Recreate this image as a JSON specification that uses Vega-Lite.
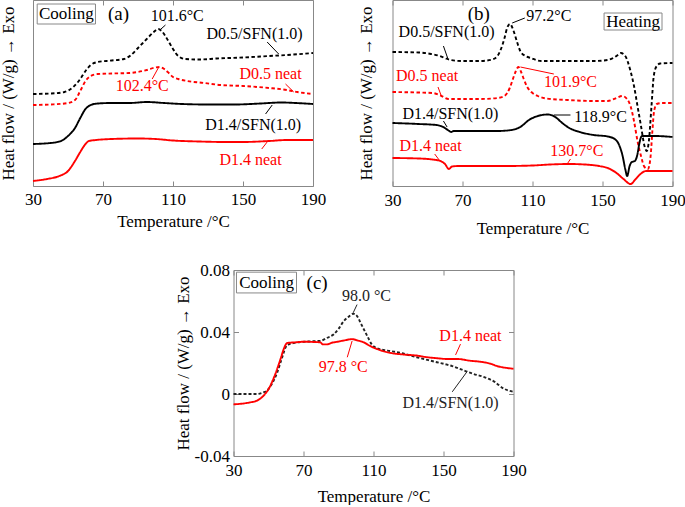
{
"$schema": "https://vega.github.io/schema/vega-lite/v6.json",
"background": "white",
"padding": {"left": -2, "top": -1, "right": 0, "bottom": 0},
"datasets": {
"a_lines": [
{"s":"D0.5/SFN(1.0)","T":30,"v":0.92},{"s":"D0.5/SFN(1.0)","T":40,"v":0.925},{"s":"D0.5/SFN(1.0)","T":48,"v":0.94},{"s":"D0.5/SFN(1.0)","T":53,"v":0.99},{"s":"D0.5/SFN(1.0)","T":57,"v":1.07},{"s":"D0.5/SFN(1.0)","T":60,"v":1.15},{"s":"D0.5/SFN(1.0)","T":63,"v":1.21},{"s":"D0.5/SFN(1.0)","T":67,"v":1.24},{"s":"D0.5/SFN(1.0)","T":75,"v":1.255},{"s":"D0.5/SFN(1.0)","T":82,"v":1.27},{"s":"D0.5/SFN(1.0)","T":86,"v":1.31},{"s":"D0.5/SFN(1.0)","T":90,"v":1.38},{"s":"D0.5/SFN(1.0)","T":95,"v":1.47},{"s":"D0.5/SFN(1.0)","T":99,"v":1.54},{"s":"D0.5/SFN(1.0)","T":101.6,"v":1.57},{"s":"D0.5/SFN(1.0)","T":104,"v":1.54},{"s":"D0.5/SFN(1.0)","T":107,"v":1.46},{"s":"D0.5/SFN(1.0)","T":110,"v":1.37},{"s":"D0.5/SFN(1.0)","T":113,"v":1.30},{"s":"D0.5/SFN(1.0)","T":117,"v":1.27},{"s":"D0.5/SFN(1.0)","T":125,"v":1.265},{"s":"D0.5/SFN(1.0)","T":135,"v":1.275},{"s":"D0.5/SFN(1.0)","T":150,"v":1.285},{"s":"D0.5/SFN(1.0)","T":165,"v":1.30},{"s":"D0.5/SFN(1.0)","T":175,"v":1.31},{"s":"D0.5/SFN(1.0)","T":190,"v":1.33},
{"s":"D0.5 neat","T":30,"v":0.81},{"s":"D0.5 neat","T":40,"v":0.815},{"s":"D0.5 neat","T":50,"v":0.83},{"s":"D0.5 neat","T":54,"v":0.86},{"s":"D0.5 neat","T":57,"v":0.95},{"s":"D0.5 neat","T":60,"v":1.05},{"s":"D0.5 neat","T":63,"v":1.10},{"s":"D0.5 neat","T":67,"v":1.12},{"s":"D0.5 neat","T":75,"v":1.125},{"s":"D0.5 neat","T":85,"v":1.13},{"s":"D0.5 neat","T":95,"v":1.16},{"s":"D0.5 neat","T":100,"v":1.185},{"s":"D0.5 neat","T":102.4,"v":1.19},{"s":"D0.5 neat","T":105,"v":1.17},{"s":"D0.5 neat","T":107,"v":1.14},{"s":"D0.5 neat","T":110,"v":1.09},{"s":"D0.5 neat","T":113,"v":1.07},{"s":"D0.5 neat","T":118,"v":1.05},{"s":"D0.5 neat","T":128,"v":1.03},{"s":"D0.5 neat","T":137,"v":1.01},{"s":"D0.5 neat","T":150,"v":1.00},{"s":"D0.5 neat","T":165,"v":0.98},{"s":"D0.5 neat","T":175,"v":0.96},{"s":"D0.5 neat","T":181,"v":0.94},{"s":"D0.5 neat","T":190,"v":0.92},
{"s":"D1.4/SFN(1.0)","T":30,"v":0.42},{"s":"D1.4/SFN(1.0)","T":40,"v":0.43},{"s":"D1.4/SFN(1.0)","T":46,"v":0.45},{"s":"D1.4/SFN(1.0)","T":50,"v":0.50},{"s":"D1.4/SFN(1.0)","T":54,"v":0.58},{"s":"D1.4/SFN(1.0)","T":57,"v":0.68},{"s":"D1.4/SFN(1.0)","T":60,"v":0.77},{"s":"D1.4/SFN(1.0)","T":63,"v":0.81},{"s":"D1.4/SFN(1.0)","T":67,"v":0.825},{"s":"D1.4/SFN(1.0)","T":75,"v":0.83},{"s":"D1.4/SFN(1.0)","T":85,"v":0.83},{"s":"D1.4/SFN(1.0)","T":95,"v":0.84},{"s":"D1.4/SFN(1.0)","T":105,"v":0.83},{"s":"D1.4/SFN(1.0)","T":115,"v":0.82},{"s":"D1.4/SFN(1.0)","T":130,"v":0.815},{"s":"D1.4/SFN(1.0)","T":145,"v":0.815},{"s":"D1.4/SFN(1.0)","T":160,"v":0.825},{"s":"D1.4/SFN(1.0)","T":172,"v":0.835},{"s":"D1.4/SFN(1.0)","T":180,"v":0.83},{"s":"D1.4/SFN(1.0)","T":190,"v":0.82},
{"s":"D1.4 neat","T":30,"v":0.05},{"s":"D1.4 neat","T":38,"v":0.07},{"s":"D1.4 neat","T":45,"v":0.10},{"s":"D1.4 neat","T":50,"v":0.15},{"s":"D1.4 neat","T":54,"v":0.25},{"s":"D1.4 neat","T":57,"v":0.34},{"s":"D1.4 neat","T":60,"v":0.42},{"s":"D1.4 neat","T":62,"v":0.45},{"s":"D1.4 neat","T":66,"v":0.46},{"s":"D1.4 neat","T":75,"v":0.47},{"s":"D1.4 neat","T":90,"v":0.475},{"s":"D1.4 neat","T":100,"v":0.47},{"s":"D1.4 neat","T":110,"v":0.455},{"s":"D1.4 neat","T":125,"v":0.445},{"s":"D1.4 neat","T":140,"v":0.44},{"s":"D1.4 neat","T":150,"v":0.44},{"s":"D1.4 neat","T":165,"v":0.45},{"s":"D1.4 neat","T":175,"v":0.46},{"s":"D1.4 neat","T":190,"v":0.46}
],
"a_text": [
{"s":"D0.5/SFN(1.0)","T":112.4,"v":1.70,"label":"101.6°C"},
{"s":"D0.5/SFN(1.0)","T":156.6,"v":1.52,"label":"D0.5/SFN(1.0)"},
{"s":"D0.5 neat","T":165.7,"v":1.12,"label":"D0.5 neat"},
{"s":"D0.5 neat","T":92.4,"v":1.00,"label":"102.4°C"},
{"s":"D1.4/SFN(1.0)","T":155.8,"v":0.61,"label":"D1.4/SFN(1.0)"},
{"s":"D1.4 neat","T":154.3,"v":0.26,"label":"D1.4 neat"}
],
"a_rules": [
{"s":"D0.5/SFN(1.0)","T":105.7,"v":1.61,"T2":102.5,"v2":1.56},
{"s":"D0.5/SFN(1.0)","T":163.8,"v":1.44,"T2":170.4,"v2":1.32},
{"s":"D0.5 neat","T":174.3,"v":1.02,"T2":179,"v2":0.94},
{"s":"D0.5 neat","T":98.1,"v":1.07,"T2":101.9,"v2":1.19},
{"s":"D1.4/SFN(1.0)","T":162.9,"v":0.72,"T2":166.7,"v2":0.81},
{"s":"D1.4 neat","T":160.7,"v":0.37,"T2":163.8,"v2":0.44}
],
"b_lines": [
{"s":"D0.5/SFN(1.0)","T":30,"v":1.34},{"s":"D0.5/SFN(1.0)","T":45,"v":1.335},{"s":"D0.5/SFN(1.0)","T":52,"v":1.32},{"s":"D0.5/SFN(1.0)","T":57,"v":1.30},{"s":"D0.5/SFN(1.0)","T":60,"v":1.28},{"s":"D0.5/SFN(1.0)","T":63,"v":1.26},{"s":"D0.5/SFN(1.0)","T":70,"v":1.25},{"s":"D0.5/SFN(1.0)","T":80,"v":1.25},{"s":"D0.5/SFN(1.0)","T":87,"v":1.265},{"s":"D0.5/SFN(1.0)","T":90,"v":1.30},{"s":"D0.5/SFN(1.0)","T":92,"v":1.37},{"s":"D0.5/SFN(1.0)","T":94,"v":1.48},{"s":"D0.5/SFN(1.0)","T":95.5,"v":1.58},{"s":"D0.5/SFN(1.0)","T":97.2,"v":1.62},{"s":"D0.5/SFN(1.0)","T":99,"v":1.56},{"s":"D0.5/SFN(1.0)","T":101,"v":1.45},{"s":"D0.5/SFN(1.0)","T":103,"v":1.35},{"s":"D0.5/SFN(1.0)","T":106,"v":1.30},{"s":"D0.5/SFN(1.0)","T":109,"v":1.28},{"s":"D0.5/SFN(1.0)","T":115,"v":1.25},{"s":"D0.5/SFN(1.0)","T":130,"v":1.25},{"s":"D0.5/SFN(1.0)","T":145,"v":1.25},{"s":"D0.5/SFN(1.0)","T":153,"v":1.26},{"s":"D0.5/SFN(1.0)","T":158,"v":1.30},{"s":"D0.5/SFN(1.0)","T":160.5,"v":1.33},{"s":"D0.5/SFN(1.0)","T":163,"v":1.30},{"s":"D0.5/SFN(1.0)","T":166,"v":1.15},{"s":"D0.5/SFN(1.0)","T":168,"v":1.00},{"s":"D0.5/SFN(1.0)","T":170,"v":0.80},{"s":"D0.5/SFN(1.0)","T":172,"v":0.60},{"s":"D0.5/SFN(1.0)","T":174,"v":0.40},{"s":"D0.5/SFN(1.0)","T":175.3,"v":0.35},{"s":"D0.5/SFN(1.0)","T":176.5,"v":0.45},{"s":"D0.5/SFN(1.0)","T":178,"v":0.80},{"s":"D0.5/SFN(1.0)","T":179.3,"v":1.10},{"s":"D0.5/SFN(1.0)","T":181,"v":1.20},{"s":"D0.5/SFN(1.0)","T":183,"v":1.225},{"s":"D0.5/SFN(1.0)","T":190,"v":1.23},
{"s":"D0.5 neat","T":30,"v":0.94},{"s":"D0.5 neat","T":45,"v":0.935},{"s":"D0.5 neat","T":53,"v":0.93},{"s":"D0.5 neat","T":58,"v":0.90},{"s":"D0.5 neat","T":62,"v":0.87},{"s":"D0.5 neat","T":70,"v":0.87},{"s":"D0.5 neat","T":80,"v":0.87},{"s":"D0.5 neat","T":90,"v":0.88},{"s":"D0.5 neat","T":94,"v":0.90},{"s":"D0.5 neat","T":97,"v":0.98},{"s":"D0.5 neat","T":99,"v":1.08},{"s":"D0.5 neat","T":100.5,"v":1.15},{"s":"D0.5 neat","T":101.9,"v":1.19},{"s":"D0.5 neat","T":103.5,"v":1.14},{"s":"D0.5 neat","T":105,"v":1.07},{"s":"D0.5 neat","T":107,"v":0.99},{"s":"D0.5 neat","T":110,"v":0.93},{"s":"D0.5 neat","T":113,"v":0.90},{"s":"D0.5 neat","T":118,"v":0.875},{"s":"D0.5 neat","T":130,"v":0.86},{"s":"D0.5 neat","T":145,"v":0.85},{"s":"D0.5 neat","T":153,"v":0.85},{"s":"D0.5 neat","T":158,"v":0.88},{"s":"D0.5 neat","T":161.3,"v":0.90},{"s":"D0.5 neat","T":164,"v":0.87},{"s":"D0.5 neat","T":166,"v":0.80},{"s":"D0.5 neat","T":168,"v":0.65},{"s":"D0.5 neat","T":170,"v":0.45},{"s":"D0.5 neat","T":172,"v":0.30},{"s":"D0.5 neat","T":174,"v":0.19},{"s":"D0.5 neat","T":176,"v":0.17},{"s":"D0.5 neat","T":177.5,"v":0.30},{"s":"D0.5 neat","T":178.5,"v":0.55},{"s":"D0.5 neat","T":179.5,"v":0.75},{"s":"D0.5 neat","T":181,"v":0.82},{"s":"D0.5 neat","T":184,"v":0.83},{"s":"D0.5 neat","T":190,"v":0.83},
{"s":"D1.4/SFN(1.0)","T":30,"v":0.63},{"s":"D1.4/SFN(1.0)","T":45,"v":0.62},{"s":"D1.4/SFN(1.0)","T":55,"v":0.61},{"s":"D1.4/SFN(1.0)","T":59,"v":0.59},{"s":"D1.4/SFN(1.0)","T":62,"v":0.555},{"s":"D1.4/SFN(1.0)","T":63.5,"v":0.54},{"s":"D1.4/SFN(1.0)","T":65,"v":0.55},{"s":"D1.4/SFN(1.0)","T":75,"v":0.55},{"s":"D1.4/SFN(1.0)","T":90,"v":0.55},{"s":"D1.4/SFN(1.0)","T":98,"v":0.56},{"s":"D1.4/SFN(1.0)","T":103,"v":0.59},{"s":"D1.4/SFN(1.0)","T":108,"v":0.66},{"s":"D1.4/SFN(1.0)","T":113,"v":0.70},{"s":"D1.4/SFN(1.0)","T":118.9,"v":0.715},{"s":"D1.4/SFN(1.0)","T":123,"v":0.69},{"s":"D1.4/SFN(1.0)","T":127,"v":0.63},{"s":"D1.4/SFN(1.0)","T":131,"v":0.58},{"s":"D1.4/SFN(1.0)","T":137,"v":0.54},{"s":"D1.4/SFN(1.0)","T":145,"v":0.51},{"s":"D1.4/SFN(1.0)","T":153,"v":0.495},{"s":"D1.4/SFN(1.0)","T":157,"v":0.47},{"s":"D1.4/SFN(1.0)","T":159.5,"v":0.41},{"s":"D1.4/SFN(1.0)","T":161.5,"v":0.30},{"s":"D1.4/SFN(1.0)","T":163,"v":0.17},{"s":"D1.4/SFN(1.0)","T":164.1,"v":0.10},{"s":"D1.4/SFN(1.0)","T":165.5,"v":0.20},{"s":"D1.4/SFN(1.0)","T":166.8,"v":0.24},{"s":"D1.4/SFN(1.0)","T":168.5,"v":0.25},{"s":"D1.4/SFN(1.0)","T":170,"v":0.32},{"s":"D1.4/SFN(1.0)","T":171,"v":0.42},{"s":"D1.4/SFN(1.0)","T":172.5,"v":0.50},{"s":"D1.4/SFN(1.0)","T":180,"v":0.50},{"s":"D1.4/SFN(1.0)","T":190,"v":0.49},
{"s":"D1.4 neat","T":30,"v":0.28},{"s":"D1.4 neat","T":45,"v":0.275},{"s":"D1.4 neat","T":55,"v":0.26},{"s":"D1.4 neat","T":58,"v":0.245},{"s":"D1.4 neat","T":60,"v":0.22},{"s":"D1.4 neat","T":62.2,"v":0.17},{"s":"D1.4 neat","T":64,"v":0.195},{"s":"D1.4 neat","T":68,"v":0.20},{"s":"D1.4 neat","T":80,"v":0.20},{"s":"D1.4 neat","T":95,"v":0.20},{"s":"D1.4 neat","T":110,"v":0.205},{"s":"D1.4 neat","T":120,"v":0.215},{"s":"D1.4 neat","T":130.7,"v":0.22},{"s":"D1.4 neat","T":140,"v":0.215},{"s":"D1.4 neat","T":148,"v":0.20},{"s":"D1.4 neat","T":153,"v":0.18},{"s":"D1.4 neat","T":158,"v":0.13},{"s":"D1.4 neat","T":162,"v":0.07},{"s":"D1.4 neat","T":166,"v":0.02},{"s":"D1.4 neat","T":169,"v":0.07},{"s":"D1.4 neat","T":171.7,"v":0.12},{"s":"D1.4 neat","T":175,"v":0.15},{"s":"D1.4 neat","T":190,"v":0.15}
],
"b_text": [
{"s":"D0.5/SFN(1.0)","T":119.3,"v":1.70,"label":"97.2°C"},
{"s":"D0.5/SFN(1.0)","T":60.9,"v":1.54,"label":"D0.5/SFN(1.0)"},
{"s":"D0.5 neat","T":49.8,"v":1.10,"label":"D0.5 neat"},
{"s":"D0.5 neat","T":131.7,"v":1.04,"label":"101.9°C"},
{"s":"D1.4/SFN(1.0)","T":63.1,"v":0.72,"label":"D1.4/SFN(1.0)"},
{"s":"D1.4/SFN(1.0)","T":148.9,"v":0.69,"label":"118.9°C"},
{"s":"D1.4 neat","T":51.7,"v":0.40,"label":"D1.4 neat"},
{"s":"D1.4 neat","T":135.3,"v":0.35,"label":"130.7°C"}
],
"b_rules": [
{"s":"D0.5/SFN(1.0)","T":105.6,"v":1.68,"T2":98.4,"v2":1.63},
{"s":"D0.5/SFN(1.0)","T":59.1,"v":1.40,"T2":61.7,"v2":1.27},
{"s":"D0.5 neat","T":56,"v":0.99,"T2":57.9,"v2":0.90},
{"s":"D0.5 neat","T":122.2,"v":1.12,"T2":103.1,"v2":1.19},
{"s":"D1.4/SFN(1.0)","T":59.1,"v":0.65,"T2":61.2,"v2":0.59},
{"s":"D1.4/SFN(1.0)","T":131.7,"v":0.71,"T2":122.2,"v2":0.71},
{"s":"D1.4 neat","T":54.1,"v":0.32,"T2":57.1,"v2":0.25},
{"s":"D1.4 neat","T":131.7,"v":0.27,"T2":129.8,"v2":0.22}
],
"c_lines": [
{"s":"D1.4/SFN(1.0)","T":30,"v":0.0},{"s":"D1.4/SFN(1.0)","T":38,"v":0.0},{"s":"D1.4/SFN(1.0)","T":43.5,"v":0.0},{"s":"D1.4/SFN(1.0)","T":47,"v":0.001},{"s":"D1.4/SFN(1.0)","T":49.3,"v":0.0024},{"s":"D1.4/SFN(1.0)","T":53,"v":0.0088},{"s":"D1.4/SFN(1.0)","T":55,"v":0.014},{"s":"D1.4/SFN(1.0)","T":56.9,"v":0.0205},{"s":"D1.4/SFN(1.0)","T":58.5,"v":0.026},{"s":"D1.4/SFN(1.0)","T":59.7,"v":0.030},{"s":"D1.4/SFN(1.0)","T":61.6,"v":0.032},{"s":"D1.4/SFN(1.0)","T":65,"v":0.033},{"s":"D1.4/SFN(1.0)","T":70.2,"v":0.0337},{"s":"D1.4/SFN(1.0)","T":75,"v":0.034},{"s":"D1.4/SFN(1.0)","T":79.7,"v":0.0343},{"s":"D1.4/SFN(1.0)","T":83,"v":0.036},{"s":"D1.4/SFN(1.0)","T":87.3,"v":0.0386},{"s":"D1.4/SFN(1.0)","T":90,"v":0.042},{"s":"D1.4/SFN(1.0)","T":93,"v":0.047},{"s":"D1.4/SFN(1.0)","T":96,"v":0.050},{"s":"D1.4/SFN(1.0)","T":98.4,"v":0.0518},{"s":"D1.4/SFN(1.0)","T":100.6,"v":0.0503},{"s":"D1.4/SFN(1.0)","T":103,"v":0.045},{"s":"D1.4/SFN(1.0)","T":106.4,"v":0.0375},{"s":"D1.4/SFN(1.0)","T":109,"v":0.032},{"s":"D1.4/SFN(1.0)","T":112.1,"v":0.0295},{"s":"D1.4/SFN(1.0)","T":118,"v":0.028},{"s":"D1.4/SFN(1.0)","T":123.5,"v":0.027},{"s":"D1.4/SFN(1.0)","T":134.7,"v":0.0237},{"s":"D1.4/SFN(1.0)","T":146.2,"v":0.0205},{"s":"D1.4/SFN(1.0)","T":155,"v":0.018},{"s":"D1.4/SFN(1.0)","T":161.6,"v":0.0152},{"s":"D1.4/SFN(1.0)","T":167,"v":0.013},{"s":"D1.4/SFN(1.0)","T":173,"v":0.011},{"s":"D1.4/SFN(1.0)","T":179,"v":0.008},{"s":"D1.4/SFN(1.0)","T":184.4,"v":0.0035},{"s":"D1.4/SFN(1.0)","T":190,"v":0.0014},
{"s":"D1.4 neat","T":30,"v":-0.0067},{"s":"D1.4 neat","T":35,"v":-0.0062},{"s":"D1.4 neat","T":39.5,"v":-0.0054},{"s":"D1.4 neat","T":43,"v":-0.0045},{"s":"D1.4 neat","T":45.4,"v":-0.0029},{"s":"D1.4 neat","T":48,"v":0.0},{"s":"D1.4 neat","T":50.2,"v":0.0035},{"s":"D1.4 neat","T":52.5,"v":0.009},{"s":"D1.4 neat","T":55,"v":0.0163},{"s":"D1.4 neat","T":57,"v":0.023},{"s":"D1.4 neat","T":58.7,"v":0.029},{"s":"D1.4 neat","T":60.7,"v":0.0329},{"s":"D1.4 neat","T":65,"v":0.0333},{"s":"D1.4 neat","T":70.2,"v":0.0337},{"s":"D1.4 neat","T":75,"v":0.0336},{"s":"D1.4 neat","T":79.7,"v":0.0333},{"s":"D1.4 neat","T":81,"v":0.032},{"s":"D1.4 neat","T":83.5,"v":0.032},{"s":"D1.4 neat","T":86,"v":0.033},{"s":"D1.4 neat","T":89.3,"v":0.0337},{"s":"D1.4 neat","T":93,"v":0.0345},{"s":"D1.4 neat","T":97.8,"v":0.0354},{"s":"D1.4 neat","T":101,"v":0.0345},{"s":"D1.4 neat","T":104.5,"v":0.0333},{"s":"D1.4 neat","T":108,"v":0.031},{"s":"D1.4 neat","T":112.1,"v":0.029},{"s":"D1.4 neat","T":116,"v":0.0275},{"s":"D1.4 neat","T":119.7,"v":0.0265},{"s":"D1.4 neat","T":127,"v":0.0255},{"s":"D1.4 neat","T":134.7,"v":0.0248},{"s":"D1.4 neat","T":140,"v":0.0238},{"s":"D1.4 neat","T":146.2,"v":0.0231},{"s":"D1.4 neat","T":152,"v":0.0226},{"s":"D1.4 neat","T":157.8,"v":0.0226},{"s":"D1.4 neat","T":165,"v":0.0215},{"s":"D1.4 neat","T":173,"v":0.0205},{"s":"D1.4 neat","T":177,"v":0.0195},{"s":"D1.4 neat","T":180.7,"v":0.018},{"s":"D1.4 neat","T":185,"v":0.017},{"s":"D1.4 neat","T":190,"v":0.0163}
],
"c_text": [
{"s":"D1.4/SFN(1.0)","T":106,"v":0.063,"label":"98.0 °C"},
{"s":"D1.4 neat","T":165.4,"v":0.0375,"label":"D1.4 neat"},
{"s":"D1.4 neat","T":92.7,"v":0.0173,"label":"97.8 °C"},
{"s":"D1.4/SFN(1.0)","T":154,"v":-0.0061,"label":"D1.4/SFN(1.0)"}
],
"c_rules": [
{"s":"D1.4/SFN(1.0)","T":100.6,"v":0.0577,"T2":98.4,"v2":0.0524},
{"s":"D1.4 neat","T":159.7,"v":0.0322,"T2":156.9,"v2":0.0252},
{"s":"D1.4 neat","T":95,"v":0.0237,"T2":97.8,"v2":0.0343},
{"s":"D1.4/SFN(1.0)","T":155,"v":0.0014,"T2":163.5,"v2":0.0145}
]
},
"vconcat": [
{
"hconcat": [
{
"width": 280, "height": 186,
"layer": [
{"data": {"name": "a_lines"}, "mark": {"type": "line", "strokeWidth": 1.9, "interpolate": "monotone"},
"encoding": {
"x": {"field": "T", "type": "quantitative", "scale": {"domain": [30, 190], "nice": false, "zero": false},
"axis": {"orient": "bottom", "values": [30, 70, 110, 150, 190], "labelPadding": 10, "labelFlush": false, "title": "Temperature /°C", "titlePadding": 6}},
"y": {"field": "v", "type": "quantitative", "scale": {"domain": [0, 1.86], "nice": false, "zero": false},
"axis": {"orient": "left", "ticks": false, "labels": false, "title": "Heat flow / (W/g) → Exo", "titlePadding": 16}},
"color": {"field": "s", "type": "nominal", "scale": {"domain": ["D0.5/SFN(1.0)", "D0.5 neat", "D1.4/SFN(1.0)", "D1.4 neat"], "range": ["black", "red", "black", "red"]}, "legend": null},
"strokeDash": {"field": "s", "type": "nominal", "scale": {"domain": ["D0.5/SFN(1.0)", "D0.5 neat", "D1.4/SFN(1.0)", "D1.4 neat"], "range": [[3.5, 2.5], [3.5, 2.5], [1, 0], [1, 0]]}, "legend": null}
}},
{"data": {"values": [{}]}, "mark": {"type": "point", "opacity": 0},
"encoding": {"x": {"datum": 30, "type": "quantitative", "axis": {"orient": "top", "values": [30, 70, 110, 150, 190], "labels": false, "title": null}},
"y": {"datum": 0, "type": "quantitative", "axis": null}}},
{"data": {"values": [{"T": 32.4, "T2": 65.7, "v": 1.62, "v2": 1.82}]}, "mark": {"type": "rect", "fill": "white", "stroke": "#888", "strokeWidth": 1},
"encoding": {"x": {"field": "T", "type": "quantitative", "axis": null}, "x2": {"field": "T2"}, "y": {"field": "v", "type": "quantitative", "axis": null}, "y2": {"field": "v2"}}},
{"data": {"values": [{"T": 49.05, "v": 1.72, "label": "Cooling"}]}, "mark": {"type": "text", "color": "black", "fontSize": 17, "align": "center", "baseline": "middle"},
"encoding": {"x": {"field": "T", "type": "quantitative", "axis": null}, "y": {"field": "v", "type": "quantitative", "axis": null}, "text": {"field": "label"}}},
{"data": {"values": [{"T": 78.9, "v": 1.72, "label": "(a)"}]}, "mark": {"type": "text", "color": "black", "fontSize": 19, "align": "center", "baseline": "middle"},
"encoding": {"x": {"field": "T", "type": "quantitative", "axis": null}, "y": {"field": "v", "type": "quantitative", "axis": null}, "text": {"field": "label"}}},
{"data": {"name": "a_rules"}, "mark": {"type": "rule", "strokeWidth": 1},
"encoding": {"x": {"field": "T", "type": "quantitative", "axis": null}, "x2": {"field": "T2"}, "y": {"field": "v", "type": "quantitative", "axis": null}, "y2": {"field": "v2"}, "color": {"field": "s", "type": "nominal", "legend": null}}},
{"data": {"name": "a_text"}, "mark": {"type": "text", "fontSize": 16, "align": "center", "baseline": "middle"},
"encoding": {"x": {"field": "T", "type": "quantitative", "axis": null}, "y": {"field": "v", "type": "quantitative", "axis": null}, "text": {"field": "label"}, "color": {"field": "s", "type": "nominal", "legend": null}}}
],
"resolve": {"axis": {"x": "independent", "y": "independent"}}
},
{
"width": 280, "height": 186,
"layer": [
{"data": {"name": "b_lines"}, "mark": {"type": "line", "strokeWidth": 1.9, "interpolate": "monotone"},
"encoding": {
"x": {"field": "T", "type": "quantitative", "scale": {"domain": [30, 190], "nice": false, "zero": false},
"axis": {"orient": "bottom", "values": [30, 70, 110, 150, 190], "labelPadding": 11, "labelFlush": false, "title": "Temperature /°C", "titlePadding": 12}},
"y": {"field": "v", "type": "quantitative", "scale": {"domain": [0, 1.86], "nice": false, "zero": false},
"axis": {"orient": "left", "ticks": false, "labels": false, "title": "Heat flow / (W/g) → Exo", "titlePadding": 17}},
"color": {"field": "s", "type": "nominal", "scale": {"domain": ["D0.5/SFN(1.0)", "D0.5 neat", "D1.4/SFN(1.0)", "D1.4 neat"], "range": ["black", "red", "black", "red"]}, "legend": null},
"strokeDash": {"field": "s", "type": "nominal", "scale": {"domain": ["D0.5/SFN(1.0)", "D0.5 neat", "D1.4/SFN(1.0)", "D1.4 neat"], "range": [[3.5, 2.5], [3.5, 2.5], [1, 0], [1, 0]]}, "legend": null}
}},
{"data": {"values": [{}]}, "mark": {"type": "point", "opacity": 0},
"encoding": {"x": {"datum": 30, "type": "quantitative", "axis": {"orient": "top", "values": [30, 70, 110, 150, 190], "labels": false, "title": null}},
"y": {"datum": 0, "type": "quantitative", "axis": null}}},
{"data": {"values": [{"T": 150.9, "T2": 184, "v": 1.56, "v2": 1.73}]}, "mark": {"type": "rect", "fill": "white", "stroke": "#888", "strokeWidth": 1},
"encoding": {"x": {"field": "T", "type": "quantitative", "axis": null}, "x2": {"field": "T2"}, "y": {"field": "v", "type": "quantitative", "axis": null}, "y2": {"field": "v2"}}},
{"data": {"values": [{"T": 167.5, "v": 1.645, "label": "Heating"}]}, "mark": {"type": "text", "color": "black", "fontSize": 17, "align": "center", "baseline": "middle"},
"encoding": {"x": {"field": "T", "type": "quantitative", "axis": null}, "y": {"field": "v", "type": "quantitative", "axis": null}, "text": {"field": "label"}}},
{"data": {"values": [{"T": 79.3, "v": 1.72, "label": "(b)"}]}, "mark": {"type": "text", "color": "black", "fontSize": 19, "align": "center", "baseline": "middle"},
"encoding": {"x": {"field": "T", "type": "quantitative", "axis": null}, "y": {"field": "v", "type": "quantitative", "axis": null}, "text": {"field": "label"}}},
{"data": {"name": "b_rules"}, "mark": {"type": "rule", "strokeWidth": 1},
"encoding": {"x": {"field": "T", "type": "quantitative", "axis": null}, "x2": {"field": "T2"}, "y": {"field": "v", "type": "quantitative", "axis": null}, "y2": {"field": "v2"}, "color": {"field": "s", "type": "nominal", "legend": null}}},
{"data": {"name": "b_text"}, "mark": {"type": "text", "fontSize": 16, "align": "center", "baseline": "middle"},
"encoding": {"x": {"field": "T", "type": "quantitative", "axis": null}, "y": {"field": "v", "type": "quantitative", "axis": null}, "text": {"field": "label"}, "color": {"field": "s", "type": "nominal", "legend": null}}}
],
"resolve": {"axis": {"x": "independent", "y": "independent"}}
}
],
"spacing": 79.5,
"bounds": "flush",
"resolve": {"scale": {"color": "independent", "strokeDash": "independent"}}
},
{
"hconcat": [
{"width": 190, "height": 186, "view": {"stroke": null}, "data": {"values": [{}]}, "mark": {"type": "point", "opacity": 0}, "encoding": {}},
{
"width": 280, "height": 186,
"layer": [
{"data": {"name": "c_lines"}, "mark": {"type": "line", "strokeWidth": 1.9, "interpolate": "monotone"},
"encoding": {
"x": {"field": "T", "type": "quantitative", "scale": {"domain": [30, 190], "nice": false, "zero": false},
"axis": {"orient": "bottom", "values": [30, 70, 110, 150, 190], "labelPadding": 11, "labelFlush": false, "title": "Temperature /°C", "titlePadding": 10}},
"y": {"field": "v", "type": "quantitative", "scale": {"domain": [-0.04, 0.08], "nice": false, "zero": false},
"axis": {"orient": "left", "values": [-0.04, 0, 0.04, 0.08], "labelPadding": 9, "labelFlush": false, "labelExpr": "datum.value == 0 ? '0' : (datum.value < 0 ? '-' : '') + format(abs(datum.value), '.2f')", "title": "Heat flow / (W/g) → Exo", "titlePadding": 2}},
"color": {"field": "s", "type": "nominal", "scale": {"domain": ["D1.4/SFN(1.0)", "D1.4 neat"], "range": ["#222", "red"]}, "legend": null},
"strokeDash": {"field": "s", "type": "nominal", "scale": {"domain": ["D1.4/SFN(1.0)", "D1.4 neat"], "range": [[3, 2], [1, 0]]}, "legend": null}
}},
{"data": {"values": [{}]}, "mark": {"type": "point", "opacity": 0},
"encoding": {"x": {"datum": 30, "type": "quantitative", "axis": {"orient": "top", "values": [30, 70, 110, 150, 190], "labels": false, "title": null}},
"y": {"datum": 0, "type": "quantitative", "axis": {"orient": "right", "values": [-0.04, 0, 0.04, 0.08], "labels": false, "title": null}}}},
{"data": {"values": [{"T": 31.7, "T2": 66, "v": 0.0652, "v2": 0.0786}]}, "mark": {"type": "rect", "fill": "white", "stroke": "#888", "strokeWidth": 1},
"encoding": {"x": {"field": "T", "type": "quantitative", "axis": null}, "x2": {"field": "T2"}, "y": {"field": "v", "type": "quantitative", "axis": null}, "y2": {"field": "v2"}}},
{"data": {"values": [{"T": 48.9, "v": 0.0719, "label": "Cooling"}]}, "mark": {"type": "text", "color": "black", "fontSize": 17, "align": "center", "baseline": "middle"},
"encoding": {"x": {"field": "T", "type": "quantitative", "axis": null}, "y": {"field": "v", "type": "quantitative", "axis": null}, "text": {"field": "label"}}},
{"data": {"values": [{"T": 77.8, "v": 0.0716, "label": "(c)"}]}, "mark": {"type": "text", "color": "black", "fontSize": 19, "align": "center", "baseline": "middle"},
"encoding": {"x": {"field": "T", "type": "quantitative", "axis": null}, "y": {"field": "v", "type": "quantitative", "axis": null}, "text": {"field": "label"}}},
{"data": {"name": "c_rules"}, "mark": {"type": "rule", "strokeWidth": 1},
"encoding": {"x": {"field": "T", "type": "quantitative", "axis": null}, "x2": {"field": "T2"}, "y": {"field": "v", "type": "quantitative", "axis": null}, "y2": {"field": "v2"}, "color": {"field": "s", "type": "nominal", "legend": null}}},
{"data": {"name": "c_text"}, "mark": {"type": "text", "fontSize": 16, "align": "center", "baseline": "middle"},
"encoding": {"x": {"field": "T", "type": "quantitative", "axis": null}, "y": {"field": "v", "type": "quantitative", "axis": null}, "text": {"field": "label"}, "color": {"field": "s", "type": "nominal", "legend": null}}}
],
"resolve": {"axis": {"x": "independent", "y": "independent"}}
}
],
"spacing": 10.5,
"bounds": "flush",
"resolve": {"scale": {"color": "independent", "strokeDash": "independent"}}
}
],
"spacing": 23,
"resolve": {"scale": {"color": "independent", "strokeDash": "independent"}},
"config": {
"view": {"stroke": "#888", "strokeWidth": 1},
"axis": {"grid": false, "domain": false, "labelFont": "Liberation Serif", "labelFontSize": 17, "labelColor": "black", "titleFont": "Liberation Serif", "titleFontSize": 17, "titleFontWeight": "normal", "titleColor": "black", "tickColor": "#888", "tickSize": -5, "labelOverlap": false, "labelBound": false},
"text": {"font": "Liberation Serif", "fontSize": 16}
}
}
